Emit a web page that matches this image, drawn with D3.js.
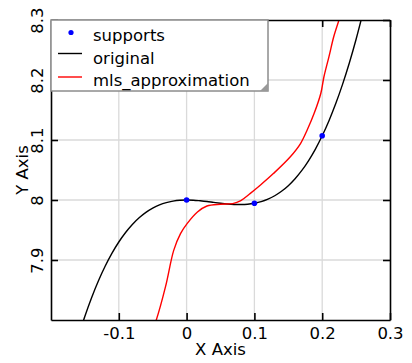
<!DOCTYPE html>
<html>
<head>
<meta charset="utf-8">
<script src="https://cdn.jsdelivr.net/npm/d3@7"></script>
<style>
  html, body { margin: 0; padding: 0; background: #fff; }
  svg { display: block; }
  text { font-family: "DejaVu Sans", Verdana, sans-serif; fill: #000; }
</style>
</head>
<body>
<svg id="chart" width="412" height="363"></svg>
<script>
// ---- data ----
const xTicks = [-0.1, 0, 0.1, 0.2, 0.3];
const yTicks = [7.9, 8, 8.1, 8.2, 8.3];
const xTickLabels = ["-0.1", "0", "0.1", "0.2", "0.3"];
const yTickLabels = ["7.9", "8", "8.1", "8.2", "8.3"];

const supportsX = [0, 0.1, 0.2];
const supportsY = [8.0, 7.9945, 8.107];

const originalX = [-0.16, -0.15, -0.14, -0.13, -0.12, -0.11, -0.10, -0.09, -0.08, -0.07, -0.06, -0.05, -0.04, -0.03, -0.02, -0.01,
  0, 0.01, 0.02, 0.03, 0.04, 0.05, 0.06, 0.07, 0.08, 0.09, 0.10, 0.11, 0.12, 0.13, 0.14, 0.15, 0.16, 0.17, 0.18, 0.19,
  0.20, 0.21, 0.22, 0.23, 0.24, 0.25, 0.26];
const originalY = [7.7713, 7.8062, 7.8375, 7.8654, 7.8899, 7.9114, 7.9300, 7.9459, 7.9593, 7.9704, 7.9794, 7.9865, 7.9919, 7.9957, 7.9982, 7.9996,
  8.0, 7.9997, 7.9987, 7.9975, 7.9960, 7.9946, 7.9934, 7.9926, 7.9924, 7.9929, 7.9945, 7.9972, 8.0014, 8.0071, 8.0145, 8.0239, 8.0355, 8.0493, 8.0658, 8.0849,
  8.1070, 8.1322, 8.1607, 8.1927, 8.2284, 8.2680, 8.3116];

const mlsX = [-0.048, -0.0447, -0.031, -0.019, -0.009, 0.001, 0.016, 0.030, 0.050, 0.068, 0.080, 0.094, 0.109, 0.128,
  0.153, 0.168, 0.178, 0.188, 0.198, 0.2025, 0.210, 0.217, 0.2247, 0.227];
const mlsY = [7.790, 7.800, 7.856, 7.916, 7.944, 7.961, 7.980, 7.990, 7.993, 7.994, 7.999, 8.011, 8.025, 8.044,
  8.072, 8.094, 8.117, 8.144, 8.178, 8.205, 8.239, 8.272, 8.300, 8.310];

const legendLabels = ["supports", "original", "mls_approximation"];
const xAxisTitle = "X Axis";
const yAxisTitle = "Y Axis";

// ---- layout ----
const svg = d3.select("#chart");
const pL = 51, pR = 390, pT = 20, pB = 320;
const fs = 16.5;
const x = d3.scaleLinear().domain([-0.2, 0.3]).range([pL, pR]);
const y = d3.scaleLinear().domain([7.8, 8.3]).range([pB, pT]);

svg.append("defs").append("clipPath").attr("id", "clip")
  .append("rect").attr("x", pL).attr("y", pT).attr("width", pR - pL).attr("height", pB - pT);

// gridlines
const grid = svg.append("g");
grid.selectAll(".gx").data(xTicks.filter(d => d < 0.3)).enter().append("line")
  .attr("x1", d => x(d)).attr("x2", d => x(d)).attr("y1", pT).attr("y2", pB)
  .attr("stroke", "#dadada").attr("stroke-width", 1.3);
grid.selectAll(".gy").data(yTicks.filter(d => d < 8.3)).enter().append("line")
  .attr("y1", d => y(d)).attr("y2", d => y(d)).attr("x1", pL).attr("x2", pR)
  .attr("stroke", "#dadada").attr("stroke-width", 1.3);

// curves
const plot = svg.append("g").attr("clip-path", "url(#clip)");
const line = d3.line().x(d => x(d[0])).y(d => y(d[1])).curve(d3.curveCatmullRom.alpha(0.5));
plot.append("path").datum(originalX.map((v, i) => [v, originalY[i]]))
  .attr("d", line).attr("fill", "none").attr("stroke", "#000").attr("stroke-width", 1.4);
plot.append("path").datum(mlsX.map((v, i) => [v, mlsY[i]]))
  .attr("d", line).attr("fill", "none").attr("stroke", "#ff0000").attr("stroke-width", 1.4);
plot.selectAll("circle").data(supportsX.map((v, i) => [v, supportsY[i]])).enter().append("circle")
  .attr("cx", d => x(d[0])).attr("cy", d => y(d[1])).attr("r", 2.8).attr("fill", "#0000ff");

// axes (inner ticks on all sides)
const tickLen = 7;
const axB = svg.append("g").attr("transform", `translate(0,${pB})`)
  .call(d3.axisBottom(x).tickValues(xTicks).tickSizeInner(-tickLen).tickSizeOuter(0).tickFormat((d, i) => xTickLabels[i]));
const axT = svg.append("g").attr("transform", `translate(0,${pT})`)
  .call(d3.axisTop(x).tickValues(xTicks).tickSizeInner(-tickLen).tickSizeOuter(0).tickFormat(""));
const axL = svg.append("g").attr("transform", `translate(${pL},0)`)
  .call(d3.axisLeft(y).tickValues(yTicks).tickSizeInner(-tickLen).tickSizeOuter(0).tickFormat((d, i) => yTickLabels[i]));
const axR = svg.append("g").attr("transform", `translate(${pR},0)`)
  .call(d3.axisRight(y).tickValues(yTicks).tickSizeInner(-tickLen).tickSizeOuter(0).tickFormat(""));

[axB, axT, axL, axR].forEach(a => {
  a.select(".domain").attr("stroke", "#000").attr("stroke-width", 1.6);
  a.selectAll(".tick line").attr("stroke", "#000").attr("stroke-width", 1.6);
  a.selectAll("text").attr("font-family", "DejaVu Sans").attr("font-size", fs).attr("fill", "#000");
});
axB.selectAll(".tick text").attr("dy", null).attr("y", 19);
axL.selectAll(".tick text")
  .attr("x", null).attr("dy", null).attr("text-anchor", "middle")
  .attr("transform", "translate(-8,0) rotate(-90)").attr("y", 0);

// axis titles
svg.append("text").attr("x", (pL + pR) / 2).attr("y", 355).attr("text-anchor", "middle")
  .attr("font-size", fs).text(xAxisTitle);
svg.append("text").attr("transform", `translate(28,${(pT + pB) / 2}) rotate(-90)`)
  .attr("text-anchor", "middle").attr("font-size", fs).text(yAxisTitle);

// legend
const lg = svg.append("g");
lg.append("rect").attr("x", pL).attr("y", pT).attr("width", 217).attr("height", 71)
  .attr("fill", "#fff").attr("stroke", "#8c8c8c").attr("stroke-width", 1.5);
lg.append("path").attr("d", `M${pL + 217},${pT + 63} L${pL + 217},${pT + 71} L${pL + 209},${pT + 71} Z`)
  .attr("fill", "#999");
lg.append("circle").attr("cx", 71).attr("cy", 32.5).attr("r", 2.6).attr("fill", "#0000ff");
lg.append("line").attr("x1", 58).attr("x2", 82).attr("y1", 53.5).attr("y2", 53.5).attr("stroke", "#000").attr("stroke-width", 1.4);
lg.append("line").attr("x1", 58).attr("x2", 82).attr("y1", 77).attr("y2", 77).attr("stroke", "#ff0000").attr("stroke-width", 1.4);
const baselines = [41, 63.5, 86];
legendLabels.forEach((t, i) => {
  lg.append("text").attr("x", 93).attr("y", baselines[i]).attr("font-size", fs).text(t);
});
</script>
</body>
</html>
